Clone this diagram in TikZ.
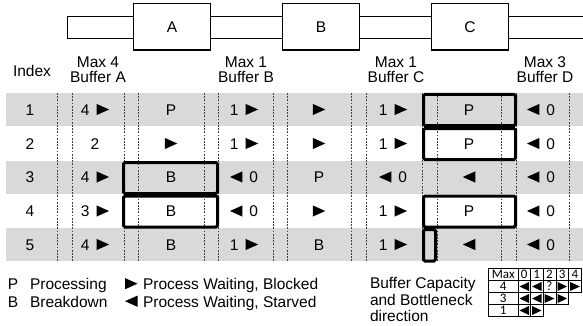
\documentclass[tikz,border=0pt]{standalone}
\usepackage{fontspec}
\setmainfont{Liberation Sans}
\newfontfamily\calib{Carlito}
\newcommand\rtri{\tikz[baseline={(0,0)},x=1pt,y=1pt]{\fill (0,0.2) -- (0,11.4) -- (12.5,5.8) -- cycle;}}
\newcommand\ltri{\tikz[baseline={(0,0)},x=1pt,y=1pt]{\fill (12.5,0.2) -- (12.5,11.4) -- (0,5.8) -- cycle;}}
\newcommand\gp{\hspace*{7pt}}
\begin{document}
\begin{tikzpicture}[x=1pt,y=-1pt,
  every node/.style={font=\fontsize{15.5}{17}\selectfont, inner sep=0pt, outer sep=0pt},
  txt/.style={anchor=base},
  ltxt/.style={anchor=base west},
  dots/.style={draw=black!75, line width=0.7pt, dash pattern=on 1.8pt off 1.4pt},
  hl/.style={draw=black, line width=3pt, rounded corners=1.5pt},
  mach/.style={draw=black, line width=1.1pt, fill=white, minimum width=77pt, minimum height=46.5pt},
  chan/.style={draw=black, line width=0.9pt},
  graybar/.style={fill=black!15},
  grid/.style={draw=black, line width=0.7pt},
  small/.style={font=\calib\fontsize{13}{13}\selectfont, anchor=base},
  tri/.style={fill=black}]
\useasboundingbox (0,0) rectangle (583,326);

% top line: channels and machines
\coordinate (ch0t) at (67,16.5);
\coordinate (ch0b) at (67,38);
\coordinate (chEt) at (590,16.5);
\coordinate (chEb) at (590,38);
\draw[chan] (chEt) -- (ch0t) -- (ch0b) -- (chEb);
\node[mach] (mA) at (172,26.75) {A};
\node[mach] (mB) at (321,26.75) {B};
\node[mach] (mC) at (470,26.75) {C};

% headers
\node[txt] (hIdx) at (32,76.5) {Index};
\node[txt] (hA1) at (98,67.5) {Max 4};
\node[txt] (hA2) at (98,82.5) {Buffer A};
\node[txt] (hB1) at (246,67.5) {Max 1};
\node[txt] (hB2) at (246,82.5) {Buffer B};
\node[txt] (hC1) at (396,67.5) {Max 1};
\node[txt] (hC2) at (396,82.5) {Buffer C};
\node[txt] (hD1) at (545,67.5) {Max 3};
\node[txt] (hD2) at (545,82.5) {Buffer D};

% gray rows
\fill[graybar] (6,93) rectangle (583,125.5);
\fill[graybar] (6,161) rectangle (583,193.5);
\fill[graybar] (6,228) rectangle (583,260.5);

% dotted column lines
\foreach \x in {57,72,124,138,204,218,273,287,351,366,422,437,501,516,569}
  \draw[dots] (\x,93) -- (\x,261);

% table contents
\foreach \r/\y/\a/\b/\c/\d/\e/\f/\g in {
  1/110/4\gp\rtri/P/1\gp\rtri/\rtri/1\gp\rtri/P/\ltri\gp 0,
  2/144/2/\rtri/1\gp\rtri/\rtri/1\gp\rtri/P/\ltri\gp 0,
  3/177.5/4\gp\rtri/B/\ltri\gp 0/P/\ltri\gp 0/\ltri/\ltri\gp 0,
  4/211.5/3\gp\rtri/B/\ltri\gp 0/\rtri/1\gp\rtri/P/\ltri\gp 0,
  5/245/4\gp\rtri/B/1\gp\rtri/B/1\gp\rtri/\ltri/\ltri\gp 0}{
  \node[txt] (i\r) at (30,{\y+5.3}) {\r};
  \node[txt] (bA\r) at (95,{\y+5.3}) {\a};
  \node[txt] (mA\r) at (171,{\y+5.3}) {\b};
  \node[txt] (bB\r) at (244,{\y+5.3}) {\c};
  \node[txt] (mB\r) at (319,{\y+5.3}) {\d};
  \node[txt] (bC\r) at (393,{\y+5.3}) {\e};
  \node[txt] (mC\r) at (469,{\y+5.3}) {\f};
  \node[txt] (bD\r) at (541,{\y+5.3}) {\g};
}

% bottleneck highlights
\draw[hl] (123.5,162.5) rectangle (217.5,193.5);
\draw[hl] (123.5,196) rectangle (217.5,227);
\draw[hl] (423.5,94.5) rectangle (515.5,125.5);
\draw[hl] (423.5,128.5) rectangle (515.5,159.5);
\draw[hl] (423.5,196) rectangle (515.5,227);
\draw[hl] (423.5,229.5) rectangle (435.5,261);

% legend
\node[ltxt] (lP) at (8,289.5) {P};
\node[ltxt] (lPt) at (30,289.5) {Processing};
\node[ltxt] (lB) at (8,307) {B};
\node[ltxt] (lBt) at (30,307) {Breakdown};
\node[ltxt] (lR) at (125,289.5) {\rtri};
\node[ltxt] (lRt) at (143,289.5) {Process Waiting, Blocked};
\node[ltxt] (lL) at (125,307) {\ltri};
\node[ltxt] (lLt) at (143,307) {Process Waiting, Starved};
\node[ltxt] (bc1) at (370,288.5) {Buffer Capacity};
\node[ltxt] (bc2) at (370,305) {and Bottleneck};
\node[ltxt] (bc3) at (370,321.5) {direction};

% small table
\def\ya{268.5}\def\yb{280.5}\def\yc{292.5}\def\yd{304.5}\def\ye{316.5}
\draw[grid] (488.5,\ya) rectangle (581.5,\yc);
\draw[grid] (488.5,\yb) -- (581.5,\yb);
\draw[grid] (488.5,\yc) rectangle (568.5,\yd);
\draw[grid] (488.5,\yd) rectangle (543,\ye);
\foreach \x in {518,530.5,543,556,568.5}
  \draw[grid] (\x,\ya) -- (\x,\yc);
\foreach \x in {518,530.5,543,556}
  \draw[grid] (\x,\yc) -- (\x,\yd);
\foreach \x in {518,530.5}
  \draw[grid] (\x,\yd) -- (\x,\ye);
\node[small] (sMax) at (503.25,278.5) {Max};
\node[small] (s0) at (524.25,278.5) {0};
\node[small] (s1) at (536.75,278.5) {1};
\node[small] (s2) at (549.5,278.5) {2};
\node[small] (s3) at (562.25,278.5) {3};
\node[small] (s4) at (575,278.5) {4};
\node[small] (r4) at (503.25,290.5) {4};
\node[small] (r3) at (503.25,302.5) {3};
\node[small] (r1) at (503.25,314.5) {1};
\node[small] (q) at (549.5,290.5) {?};
% triangles: left-pointing (L) and right-pointing (R)
\foreach \xa/\xb/\yt/\yb/\d in {
  518/530.5/280.5/292.5/L, 530.5/543/280.5/292.5/L, 556/568.5/280.5/292.5/R, 568.5/581.5/280.5/292.5/R,
  518/530.5/292.5/304.5/L, 530.5/543/292.5/304.5/L, 543/556/292.5/304.5/R, 556/568.5/292.5/304.5/R,
  518/530.5/304.5/316.5/L, 530.5/543/304.5/316.5/R}{
  \if\d L
    \fill[tri] ({\xb-1.5},{\yt+1.5}) -- ({\xb-1.5},{\yb-1.5}) -- ({\xa+1.5},{(\yt+\yb)/2}) -- cycle;
  \else
    \fill[tri] ({\xa+1.5},{\yt+1.5}) -- ({\xa+1.5},{\yb-1.5}) -- ({\xb-1.5},{(\yt+\yb)/2}) -- cycle;
  \fi
}
\end{tikzpicture}
\end{document}
